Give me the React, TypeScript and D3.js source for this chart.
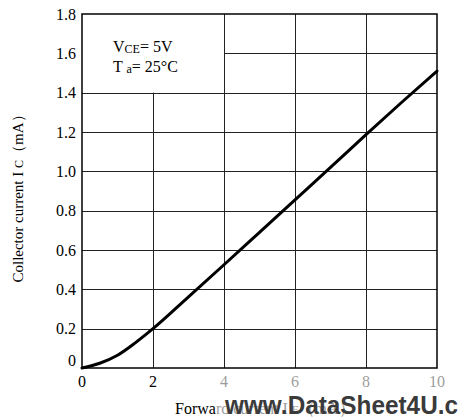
import React from "react";
import * as d3 from "d3";

const forwardCurrent = [0, 0.5, 1, 1.5, 2, 3, 4, 5, 6, 7, 8, 9, 10];
const collectorCurrent = [0, 0.024, 0.065, 0.128, 0.2, 0.362, 0.525, 0.69, 0.855, 1.02, 1.187, 1.35, 1.51];
const xTicks = [0, 2, 4, 6, 8, 10];
const yTicks = [0, 0.2, 0.4, 0.6, 0.8, 1.0, 1.2, 1.4, 1.6, 1.8];
const yTickLabels = ["0", "0.2", "0.4", "0.6", "0.8", "1.0", "1.2", "1.4", "1.6", "1.8"];

const W = 460;
const H = 419;
const serif = "'Liberation Serif', 'Times New Roman', serif";

export default function App() {
  const x = d3.scaleLinear().domain([0, 10]).range([82, 437]);
  const y = d3.scaleLinear().domain([0, 1.8]).range([368, 14]);
  const pts = forwardCurrent.map((f, i) => [f, collectorCurrent[i]] as [number, number]);
  const line = d3
    .line<[number, number]>()
    .x((d) => x(d[0]))
    .y((d) => y(d[1]))
    .curve(d3.curveMonotoneX);

  const gridColor = "#222";
  return (
    <svg width={W} height={H} style={{ position: "absolute", left: 0, top: 0 }}>
      <rect x={0} y={0} width={W} height={H} fill="#fff" />
      {/* horizontal grid */}
      {yTicks.slice(1, -1).map((t) => (
        <line
          key={"h" + t}
          x1={t > 1.5 ? x(4) : x(0)}
          x2={x(10)}
          y1={Math.round(y(t)) + 0.5}
          y2={Math.round(y(t)) + 0.5}
          stroke={gridColor}
          strokeWidth={1}
        />
      ))}
      {/* vertical grid */}
      {xTicks.slice(1, -1).map((t) => (
        <line
          key={"v" + t}
          x1={Math.round(x(t)) + 0.5}
          x2={Math.round(x(t)) + 0.5}
          y1={t === 2 ? y(1.4) : y(1.8)}
          y2={y(0)}
          stroke={gridColor}
          strokeWidth={1}
        />
      ))}
      {/* frame */}
      <rect
        x={x(0)}
        y={y(1.8)}
        width={x(10) - x(0)}
        height={y(0) - y(1.8)}
        fill="none"
        stroke="#000"
        strokeWidth={1.5}
      />
      {/* curve */}
      <path d={line(pts) || ""} fill="none" stroke="#000" strokeWidth={3} strokeLinecap="round" />

      {/* y tick labels */}
      {yTicks.map((t, i) => (
        <text
          key={"yl" + t}
          x={76}
          y={y(t) + (t === 0 ? -2 : 5.5)}
          textAnchor="end"
          fontFamily={serif}
          fontSize={16}
          fill="#000"
        >
          {yTickLabels[i]}
        </text>
      ))}
      {/* x tick labels */}
      {xTicks.map((t) => (
        <text
          key={"xl" + t}
          x={x(t)}
          y={387}
          textAnchor="middle"
          fontFamily={serif}
          fontSize={16}
          fill="#000"
        >
          {t}
        </text>
      ))}

      {/* annotation */}
      <text x={113} y={51.5} fontFamily={serif} fontSize={16} fill="#000">
        V<tspan fontSize={12} dy={1}>CE</tspan><tspan dy={-1}>= 5V</tspan>
      </text>
      <text x={113} y={71.5} fontFamily={serif} fontSize={16} fill="#000">
        T <tspan fontSize={12} dy={1}>a</tspan><tspan dy={-1}>= 25°C</tspan>
      </text>

      {/* y axis title */}
      <text
        transform={`translate(23, 195) rotate(-90)`}
        textAnchor="middle"
        fontFamily={serif}
        fontSize={15}
        fill="#000"
      >
        Collector current I <tspan fontSize={12}>C</tspan>（mA）
      </text>

      {/* x axis title */}
      <text x={175} y={414} fontFamily={serif} fontSize={16} fill="#000">
        Forward current I <tspan fontSize={12}>F</tspan>（mA）
      </text>

      {/* watermark fade */}
      <rect x={216} y={372} width={W - 216} height={H - 372} fill="#fff" opacity={0.6} />
      <text
        x={225}
        y={414}
        fontFamily="'Liberation Sans', Arial, sans-serif"
        fontWeight="bold"
        fontSize={25}
        fill="#3a3a3a"
        textLength={233}
        lengthAdjust="spacingAndGlyphs"
      >
        www.DataSheet4U.c
      </text>
    </svg>
  );
}
